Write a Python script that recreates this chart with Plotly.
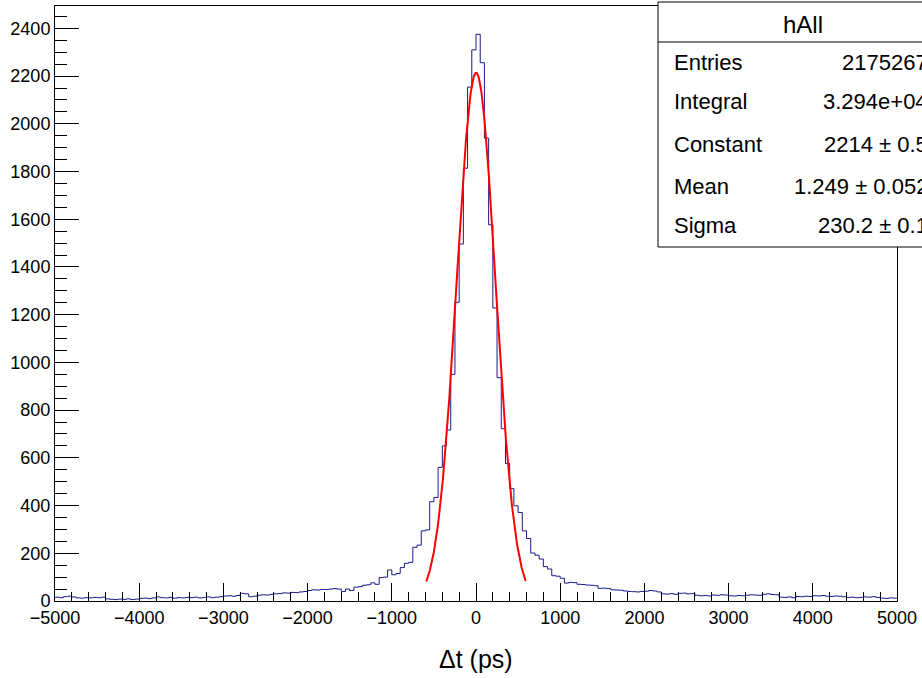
import numpy as np
import plotly.graph_objects as go

# ---------------- data ----------------
bin_width = 50
x_low, x_high = -5000, 5000

# counts for bins with left edges -5000 ... -1850
counts_left_tail = [16, 14, 18, 20, 17, 13,
                    12, 14, 13, 15, 14, 16,
                    9, 7, 6, 8, 7, 9, 6, 8,
                    11, 12, 10, 13, 17,
                    14, 13, 15, 12, 14, 13, 15, 14, 16, 13, 15, 17, 14, 16, 18,
                    21, 22, 20, 23,
                    32, 30, 18, 20,
                    24, 26, 25, 28,
                    30, 31, 34, 33,
                    36, 35, 38, 40,
                    44, 47, 46, 48]
# left edges -1800 ... -50
counts_left_core = [48, 50, 52, 50, 40, 50, 44, 58, 60, 66, 68, 76,
                    70, 98, 100, 130, 110, 115, 140, 158, 162, 225, 234, 294,
                    298, 416, 434, 560, 650, 717, 950, 1252, 1496, 1814, 2154, 2310]
# left edges 0 ... 1650
counts_right_core = [2375, 2256, 1940, 1577, 1228, 936, 722, 576, 471, 399,
                     371, 294, 262, 201, 192, 176, 144, 134, 106, 104,
                     95, 75, 78, 77, 70, 69, 67, 66, 64, 53,
                     54, 52, 47, 46]
# left edges 1700 ... 4950
counts_right_tail = [45, 42, 40, 39, 38, 40, 41, 44, 42, 38,
                     30, 29, 31, 28, 32, 33, 30, 31, 24, 22,
                     23, 21, 25, 24, 26, 25, 22, 21, 23, 22,
                     24, 26, 25, 24, 28, 30, 27, 26, 16, 15,
                     17, 14, 19, 18, 20, 19, 22, 21, 23, 20,
                     19, 21, 20, 18, 15, 16, 14, 15, 17, 16,
                     18, 15, 12, 11, 13, 12]

# Gaussian fit (from the stats box)
fit_constant = 2214.0
fit_mean = 1.249
fit_sigma = 230.2
fit_range = (-590, 590)

stat_title = "hAll"
stat_names = ["Entries", "Integral", "Constant", "Mean", "Sigma"]
stat_values = ["2175267", "3.294e+04", "2214 ± 0.5", "1.249 ± 0.052", "230.2 ± 0.1"]

x_tick_vals = list(range(-5000, 5001, 1000))
x_title = "Δt (ps)"

# ---------------- build ----------------
counts = counts_left_tail + counts_left_core + counts_right_core + counts_right_tail
edges = np.arange(x_low, x_high + 1, bin_width)
step_x = list(edges)
step_y = counts + [counts[-1]]

fx = np.linspace(fit_range[0], fit_range[1], 400)
fy = fit_constant * np.exp(-0.5 * ((fx - fit_mean) / fit_sigma) ** 2)

FONT = "Liberation Sans, Arial, Helvetica, sans-serif"
W, H = 922, 678
ML, MR, MT, MB = 55, 25, 6, 77
PW, PH = W - ML - MR, H - MT - MB


def px(xp):
    return (xp - ML) / PW


def py(yp):
    return (H - MB - yp) / PH


fig = go.Figure()
fig.add_trace(go.Scatter(x=step_x, y=step_y, mode="lines", line_shape="hv",
                         line=dict(color="#1a1a8c", width=1), hoverinfo="skip",
                         showlegend=False))
fig.add_trace(go.Scatter(x=fx, y=fy, mode="lines",
                         line=dict(color="#ff0000", width=2), hoverinfo="skip",
                         showlegend=False))

ymax = 1.05 * max(counts)

fig.update_layout(
    width=W, height=H,
    margin=dict(l=ML, r=MR, t=MT, b=MB, pad=0),
    paper_bgcolor="white", plot_bgcolor="white",
    font=dict(family=FONT, color="black", size=18),
    showlegend=False,
    xaxis=dict(range=[x_low, x_high], tickvals=x_tick_vals,
               ticks="inside", ticklen=18, tickwidth=1, tickcolor="black",
               minor=dict(dtick=200, ticks="inside", ticklen=9, tickcolor="black", tickwidth=1),
               showline=True, linecolor="black", linewidth=1, mirror=True,
               showgrid=False, zeroline=False, automargin=False,
               tickfont=dict(family=FONT, size=18)),
    yaxis=dict(range=[0, ymax], dtick=200, tick0=0,
               ticks="inside", ticklen=24, tickwidth=1, tickcolor="black",
               minor=dict(dtick=50, ticks="inside", ticklen=12, tickcolor="black", tickwidth=1),
               showline=True, linecolor="black", linewidth=1, mirror=True,
               showgrid=False, zeroline=False, automargin=False,
               tickfont=dict(family=FONT, size=18)),
)

# stats box
box_x0, box_x1 = 658, 965
box_y0, box_y1 = 2, 247
fig.add_shape(type="rect", xref="paper", yref="paper",
              x0=px(box_x0), x1=px(box_x1), y0=py(box_y1), y1=py(box_y0),
              line=dict(color="black", width=1), fillcolor="white", layer="above")
fig.add_shape(type="line", xref="paper", yref="paper",
              x0=px(box_x0), x1=px(box_x1), y0=py(42), y1=py(42),
              line=dict(color="black", width=1), layer="above")

fig.add_annotation(xref="paper", yref="paper", x=px(803), y=py(24), text=stat_title,
                   showarrow=False, xanchor="center", yanchor="middle",
                   font=dict(family=FONT, size=24, color="black"))
row_y = [63, 102, 145, 186, 225]
for name, val, yy in zip(stat_names, stat_values, row_y):
    fig.add_annotation(xref="paper", yref="paper", x=px(672), y=py(yy), text=name,
                       showarrow=False, xanchor="left", yanchor="middle",
                       font=dict(family=FONT, size=22, color="black"))
    fig.add_annotation(xref="paper", yref="paper", x=px(930), y=py(yy), text=val,
                       showarrow=False, xanchor="right", yanchor="middle",
                       font=dict(family=FONT, size=22, color="black"))

fig.add_annotation(xref="paper", yref="paper", x=0.5, y=py(659), text=x_title,
                   showarrow=False, xanchor="center", yanchor="middle",
                   font=dict(family=FONT, size=25, color="black"))

fig.write_html("out.html", config={"displayModeBar": False, "staticPlot": True},
               post_script="document.body.style.margin='0px';document.body.style.overflow='hidden';")
